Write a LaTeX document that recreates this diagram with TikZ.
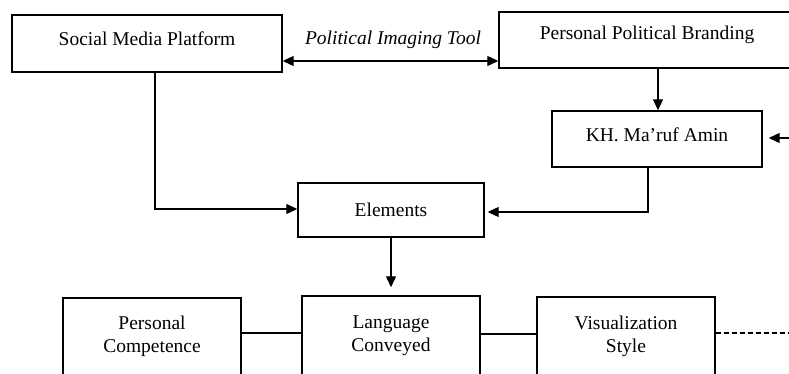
\documentclass[tikz,border=0pt]{standalone}
\usepackage{fontspec}
\setmainfont{Liberation Serif}
\usetikzlibrary{arrows.meta}
\begin{document}
\begin{tikzpicture}[x=1pt,y=-1pt,
  box/.style={draw=black,line width=1.4pt,inner sep=0pt,fill=white},
  txt/.style={font=\fontsize{19.5}{23}\selectfont,align=center,inner sep=0pt},
  conn/.style={draw=black,line width=1.1pt},
  arr/.style={conn,-{Triangle[length=11pt,width=10pt]}},
  darr/.style={conn,{Triangle[length=11pt,width=10pt]}-{Triangle[length=11pt,width=10pt]}}]
\useasboundingbox (0,0) rectangle (789,374);
\clip (0,0) rectangle (789,374);
% boxes
\node[box,minimum width=270pt,minimum height=57pt] (smp) at (147,43.5) {};
\node[txt] (smpt) at (147,39) {Social Media Platform};
\node[box,minimum width=296pt,minimum height=56pt] (ppb) at (647,40) {};
\node[txt] (ppbt) at (647,35) {Personal Political Branding};
\node[box,minimum width=210pt,minimum height=56pt] (kh) at (657,139) {};
\node[txt] (kht) at (657,135) {KH. Ma’ruf Amin};
\node[box,minimum width=186pt,minimum height=54pt] (el) at (391,210) {};
\node[txt] (elt) at (391,210) {Elements};
\node[box,minimum width=178pt,minimum height=110pt] (pc) at (152,353) {};
\node[txt] (pct) at (152,336) {Personal\\Competence};
\node[box,minimum width=178pt,minimum height=110pt] (lc) at (391,351) {};
\node[txt] (lct) at (391,336) {Language\\Conveyed};
\node[box,minimum width=178pt,minimum height=110pt] (vs) at (626,352) {};
\node[txt] (vst) at (626,336) {Visualization\\Style};
% label
\node[txt,font=\fontsize{19.5}{23}\selectfont\itshape] (pit) at (393,40) {Political Imaging Tool};
% helper coordinates
\coordinate (ya) at (0,61);
\coordinate (xa) at (658,0);
\coordinate (rin) at (789,138);
\coordinate (xk) at (648,0);
\coordinate (yk) at (0,212);
\coordinate (xs) at (155,0);
\coordinate (ys) at (0,209);
\coordinate (dend) at (789,333);
% connectors
\draw[darr] (smp.east |- ya) -- (ppb.west |- ya);
\draw[arr] (ppb.south -| xa) -- (kh.north -| xa);
\draw[arr,shorten >=6pt] (rin) -- (kh.east |- rin);
\draw[arr,shorten >=3pt] (kh.south -| xk) -- (xk |- yk) -- (el.east |- yk);
\draw[arr] (smp.south -| xs) -- (xs |- ys) -- (el.west |- ys);
\draw[arr,shorten >=8pt] (el.south) -- (lc.north);
\draw[conn] (pc.east |- dend) -- (lc.west |- dend);
\draw[conn] ([yshift=-1pt]lc.east |- dend) -- ([yshift=-1pt]vs.west |- dend);
\draw[conn,dashed,dash pattern=on 5pt off 3pt] (vs.east |- dend) -- (dend);
\end{tikzpicture}
\end{document}
